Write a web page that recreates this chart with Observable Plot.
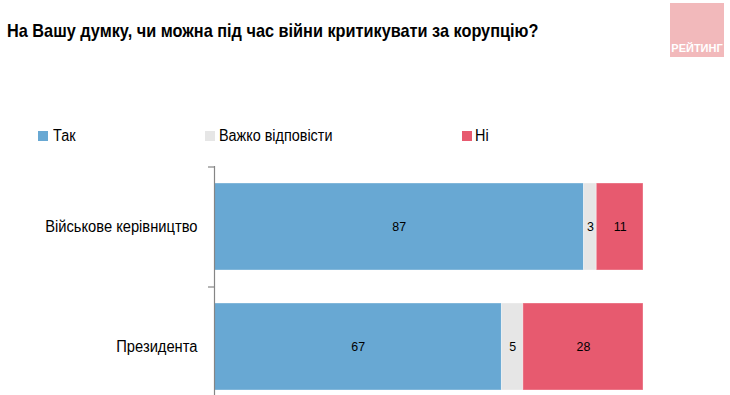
<!DOCTYPE html>
<html><head><meta charset="utf-8">
<script src="https://cdn.jsdelivr.net/npm/d3@7"></script>
<script src="https://cdn.jsdelivr.net/npm/@observablehq/plot@0.6"></script>
<style>
body{margin:0;background:#fff;font-family:"Liberation Sans",Arial,sans-serif;color:#000;}
#wrap{position:relative;width:730px;height:395px;overflow:hidden;}
#chart{position:absolute;left:0;top:0;}
.t{position:absolute;white-space:nowrap;transform-origin:0 0;line-height:1;}
.sq{position:absolute;width:10px;height:10px;}
#logo{position:absolute;left:670px;top:3px;width:54px;height:54px;background:#f2b9bb;}
#logo span{position:absolute;left:0;right:0;bottom:3px;text-align:center;color:#fff;font-weight:bold;font-size:11px;line-height:1;}
</style></head><body><div id="wrap"><div id="chart"></div></div>
<script>
const title = "На Вашу думку, чи можна під час війни критикувати за корупцію?";
const logoText = "РЕЙТИНГ";
const categories = ["Військове керівництво", "Президента"];
const responses = ["Так", "Важко відповісти", "Ні"];
const colors = ["#68a8d3", "#e6e6e6", "#e75a6f"];
const militaryValues = [87, 3, 11];
const presidentValues = [67, 5, 28];

const seriesByCategory = [militaryValues, presidentValues];
const rows = [];
categories.forEach((c, i) => responses.forEach((r, j) => rows.push({category: c, response: r, value: seriesByCategory[i][j]})));

const wrap = document.getElementById("wrap");

// title
const t = document.createElement("div");
t.className = "t"; t.textContent = title;
Object.assign(t.style, {left: "7px", top: "21.5px", fontSize: "18.5px", fontWeight: "bold", transform: "scaleX(0.88)"});
wrap.appendChild(t);

// logo
const logo = document.createElement("div");
logo.id = "logo"; logo.innerHTML = `<span>${logoText}</span>`;
wrap.appendChild(logo);

// legend
const legendSq = [38, 205, 462];
const legendTx = [53, 219, 475];
responses.forEach((r, i) => {
  const s = document.createElement("div");
  s.className = "sq";
  Object.assign(s.style, {left: legendSq[i] + "px", top: "131px", background: colors[i]});
  wrap.appendChild(s);
  const l = document.createElement("div");
  l.className = "t"; l.textContent = r;
  Object.assign(l.style, {left: legendTx[i] + "px", top: "128px", fontSize: "16px", transform: "scaleX(0.9)"});
  wrap.appendChild(l);
});

const stackOpts = {x: "value", y: "category", offset: "normalize", order: responses};
const chart = Plot.plot({
  width: 730, height: 395,
  marginTop: 166, marginBottom: 0, marginLeft: 214, marginRight: 87,
  style: {fontFamily: '"Liberation Sans", Arial, sans-serif', fontSize: "16px", color: "#000", background: "transparent", overflow: "visible"},
  x: {domain: [0, 1], axis: null},
  y: {domain: categories, range: [166, 406], paddingInner: 0.275, paddingOuter: 0.1375, label: null, tickSize: 0, tickPadding: 17},
  color: {domain: responses, range: colors},
  marks: [
    Plot.barX(rows, Plot.stackX({...stackOpts, fill: "response", z: "response", stroke: "#fff", strokeOpacity: 0.35, strokeWidth: 1})),
    Plot.text(rows, Plot.stackX({...stackOpts, z: "response", text: d => String(d.value), fontSize: 13.5, fill: "#000"})),
    Plot.ruleX([0], {stroke: "#858585", strokeWidth: 1.2}),
    Plot.ruleY(categories, {y: d => d, dy: -60, x1: -6 / 429, x2: 0, stroke: "#858585", strokeWidth: 1.2})
  ]
});
document.getElementById("chart").appendChild(chart);

// horizontally condense svg texts like the reference rendering
function squeeze(svg, s) {
  svg.querySelectorAll("text").forEach(tx => {
    const r = tx.getBoundingClientRect();
    const anchor = getComputedStyle(tx).textAnchor;
    const ax = anchor === "end" ? r.right : anchor === "middle" ? (r.left + r.right) / 2 : r.left;
    const m = tx.parentNode.getScreenCTM();
    const x = (ax - m.e) / m.a;
    const g = document.createElementNS("http://www.w3.org/2000/svg", "g");
    tx.parentNode.insertBefore(g, tx);
    g.appendChild(tx);
    g.setAttribute("transform", `translate(${x},0) scale(${s},1) translate(${-x},0)`);
  });
}
squeeze(chart, 0.92);
</script></body></html>
